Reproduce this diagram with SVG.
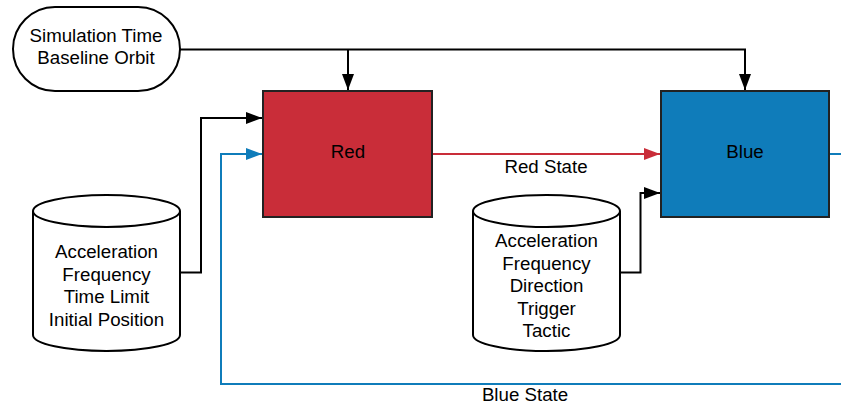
<svg xmlns="http://www.w3.org/2000/svg" width="841" height="408" viewBox="0 0 841 408">
<style>
  text { font-family: "Liberation Sans", Arial, sans-serif; font-size: 18.7px; fill: #000; text-anchor: middle; }
  .shape { fill: #fff; stroke: #000; stroke-width: 2; }
  .conn { fill: none; stroke: #000; stroke-width: 2; }
  .red { stroke: #C92D39; }
  .blue { stroke: #0F7CBA; }
</style>
<defs>
  <marker id="ab" viewBox="0 0 16 12" refX="16" refY="6" markerWidth="16" markerHeight="12" markerUnits="userSpaceOnUse" orient="auto">
    <path d="M0,0 L16,6 L0,12 Z" fill="#000"/>
  </marker>
  <marker id="ar" viewBox="0 0 16 12" refX="16" refY="6" markerWidth="16" markerHeight="12" markerUnits="userSpaceOnUse" orient="auto">
    <path d="M0,0 L16,6 L0,12 Z" fill="#C92D39"/>
  </marker>
  <marker id="abl" viewBox="0 0 16 12" refX="16" refY="6" markerWidth="16" markerHeight="12" markerUnits="userSpaceOnUse" orient="auto">
    <path d="M0,0 L16,6 L0,12 Z" fill="#0F7CBA"/>
  </marker>
</defs>

<g id="connectors">
  <path class="conn" d="M180,49.5 H745 V90" marker-end="url(#ab)"/>
  <path class="conn" d="M348,49.5 V90" marker-end="url(#ab)"/>
  <path class="conn" d="M180,272.5 H201 V118 H262" marker-end="url(#ab)"/>
  <path class="conn" d="M620,272.5 H640.5 V193 H660" marker-end="url(#ab)"/>
  <path class="conn red" d="M432,154 H660" marker-end="url(#ar)"/>
  <path class="conn blue" d="M830,154 H841"/>
  <path class="conn blue" d="M841,384 H221 V154 H262" marker-end="url(#abl)"/>
  <text x="546" y="173">Red State</text>
  <text x="525" y="401">Blue State</text>
</g>

<g id="sim">
  <rect class="shape" x="13" y="7" width="167" height="84" rx="42" ry="42"/>
  <text x="96" y="42">Simulation Time</text>
  <text x="96" y="64">Baseline Orbit</text>
</g>

<g id="red">
  <rect x="263" y="91" width="169" height="126" fill="#C92D39" stroke="#222" stroke-width="2"/>
  <text x="348" y="158">Red</text>
</g>

<g id="blue">
  <rect x="661" y="91" width="168" height="126" fill="#0F7CBA" stroke="#222" stroke-width="2"/>
  <text x="745" y="158">Blue</text>
</g>

<g id="redData">
  <path class="shape" d="M33,211 A73.5,16 0 0 1 180,211 V335 A73.5,16 0 0 1 33,335 Z"/>
  <path class="conn" d="M33,211 A73.5,16 0 0 0 180,211"/>
  <text x="106.5" y="258">Acceleration</text>
  <text x="106.5" y="281">Frequency</text>
  <text x="106.5" y="303">Time Limit</text>
  <text x="106.5" y="326">Initial Position</text>
</g>

<g id="blueData">
  <path class="shape" d="M473,211 A73.5,16 0 0 1 620,211 V335 A73.5,16 0 0 1 473,335 Z"/>
  <path class="conn" d="M473,211 A73.5,16 0 0 0 620,211"/>
  <text x="546.5" y="247">Acceleration</text>
  <text x="546.5" y="270">Frequency</text>
  <text x="546.5" y="292">Direction</text>
  <text x="546.5" y="315">Trigger</text>
  <text x="546.5" y="337">Tactic</text>
</g>
</svg>
